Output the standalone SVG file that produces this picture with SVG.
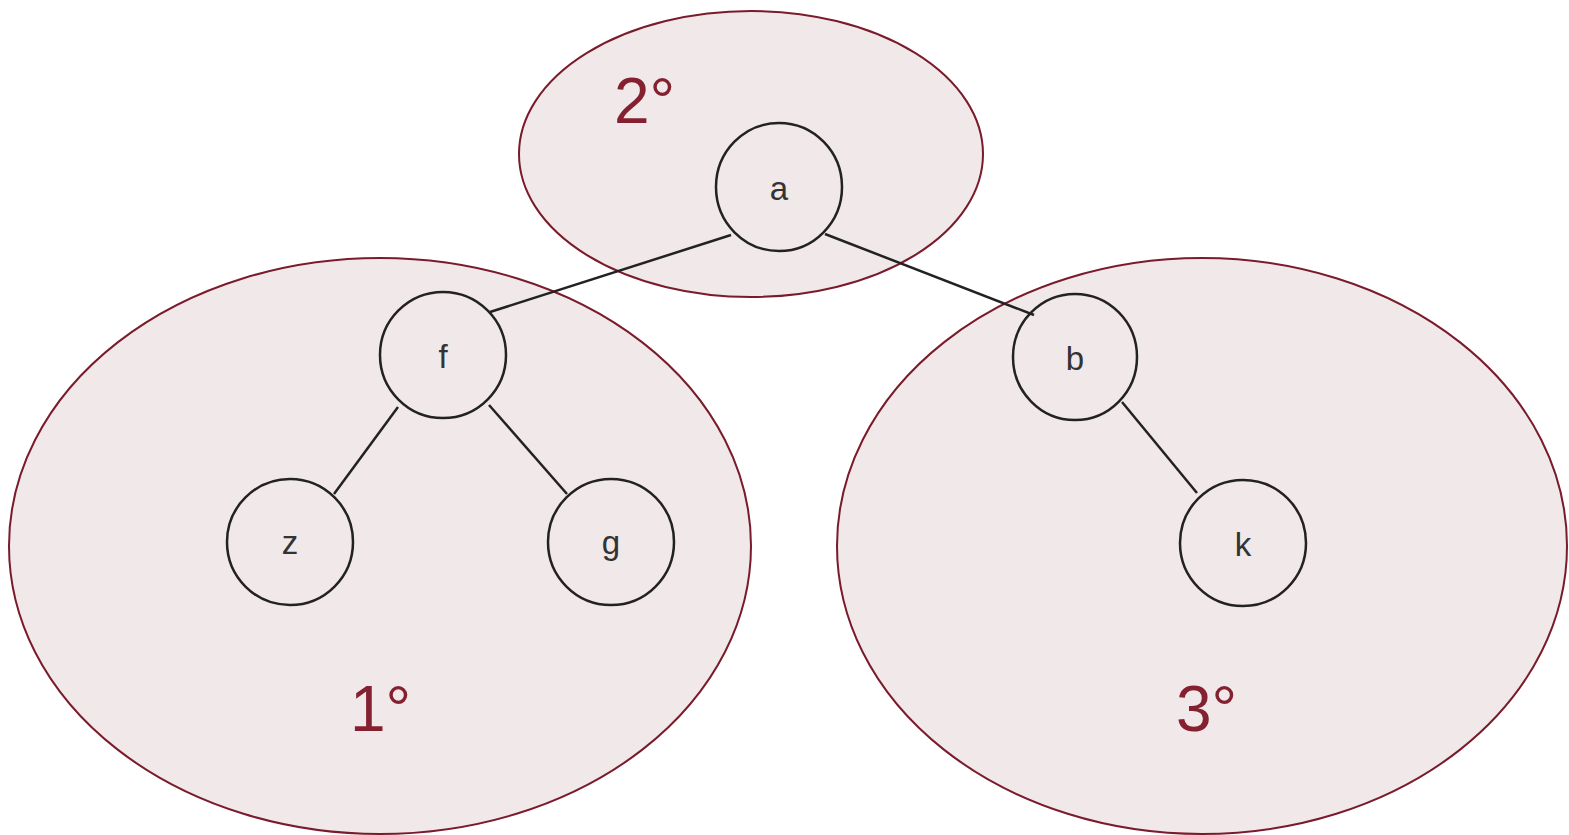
<svg xmlns="http://www.w3.org/2000/svg" width="1569" height="835" viewBox="0 0 1569 835">
<style>
.grp{fill:#f0e8e9;stroke:#7a1b2c;stroke-width:2}
.deg{font-family:"Liberation Sans",Arial,sans-serif;font-size:64px;fill:#84202f}
.node ellipse{fill:none;stroke:#222;stroke-width:2.5}
.node text{font-family:"Liberation Sans",Arial,sans-serif;font-size:33px;fill:#333;text-anchor:middle}
.edge{stroke:#222;stroke-width:2.5;fill:none}
</style>
<rect width="1569" height="835" fill="#fff"/>
<g id="groups">
<ellipse class="grp" cx="380" cy="546" rx="371" ry="288"/>
<ellipse class="grp" cx="1202" cy="546" rx="365" ry="288"/>
<ellipse class="grp" cx="751" cy="154" rx="232" ry="143"/>
<text class="deg" x="614" y="123">2°</text>
<text class="deg" x="350" y="731">1°</text>
<text class="deg" x="1176" y="731">3°</text>
</g>
<g id="connectors">
<line class="edge" x1="731" y1="235" x2="490" y2="312"/>
<line class="edge" x1="825" y1="234" x2="1034" y2="315"/>
<line class="edge" x1="398" y1="407" x2="334" y2="494"/>
<line class="edge" x1="489" y1="405" x2="567" y2="494"/>
<line class="edge" x1="1122" y1="402" x2="1197" y2="493"/>
</g>
<g id="node-a" class="node"><ellipse cx="779" cy="187" rx="63" ry="64"/><text x="779" y="200">a</text></g>
<g id="node-f" class="node"><ellipse cx="443" cy="355" rx="63" ry="63"/><text x="443" y="368">f</text></g>
<g id="node-z" class="node"><ellipse cx="290" cy="542" rx="63" ry="63"/><text x="290" y="554">z</text></g>
<g id="node-g" class="node"><ellipse cx="611" cy="542" rx="63" ry="63"/><text x="611" y="554">g</text></g>
<g id="node-b" class="node"><ellipse cx="1075" cy="357" rx="62" ry="63"/><text x="1075" y="370">b</text></g>
<g id="node-k" class="node"><ellipse cx="1243" cy="543" rx="63" ry="63"/><text x="1243" y="556">k</text></g>
</svg>
